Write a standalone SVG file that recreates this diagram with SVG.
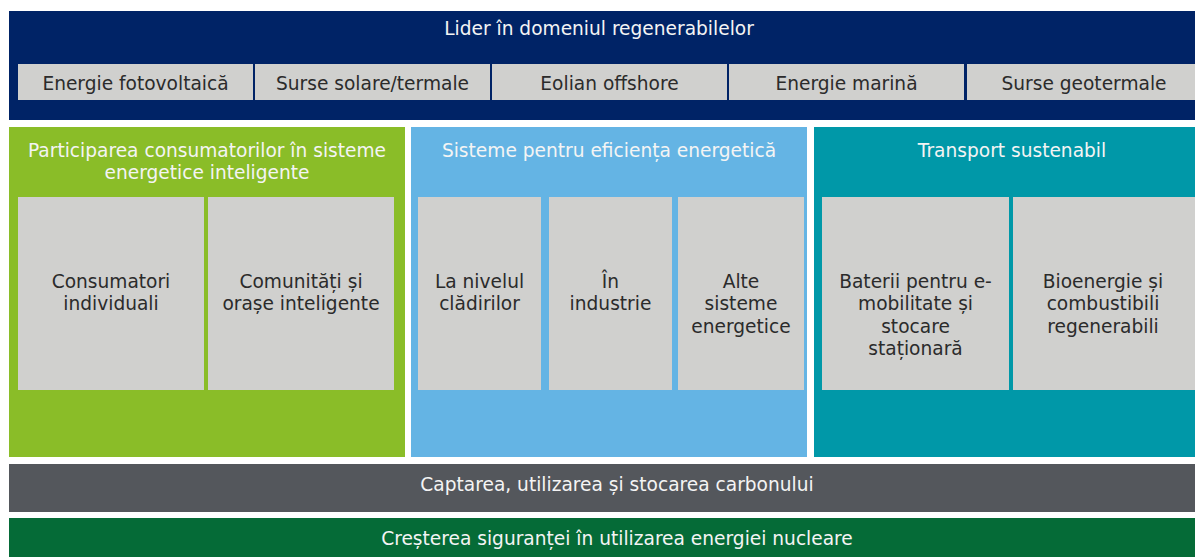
<svg xmlns="http://www.w3.org/2000/svg" width="1195" height="557" viewBox="0 0 1195 557">
<style>
text{font-family:"DejaVu Sans","Verdana",sans-serif;font-size:18.6px;text-anchor:middle}
.w{fill:#f4f4f4}
.d{fill:#2b2b2b}
.box{fill:#d0d0ce}
</style>
<rect width="1195" height="557" fill="#ffffff"/>
<g id="renewables">
<rect x="9" y="11" width="1186" height="109" fill="#002366"/>
<text class="w" x="599" y="35">Lider în domeniul regenerabilelor</text>
</g>
<g id="pv"><rect class="box" x="18" y="64" width="235" height="36"/><text class="d" x="135.5" y="90">Energie fotovoltaică</text></g>
<g id="solar"><rect class="box" x="255" y="64" width="235" height="36"/><text class="d" x="372.5" y="90">Surse solare/termale</text></g>
<g id="offshore"><rect class="box" x="492" y="64" width="235" height="36"/><text class="d" x="609.5" y="90">Eolian offshore</text></g>
<g id="marine"><rect class="box" x="729" y="64" width="235" height="36"/><text class="d" x="846.5" y="90">Energie marină</text></g>
<g id="geo"><rect class="box" x="967" y="64" width="228" height="36"/><text class="d" x="1084" y="90">Surse geotermale</text></g>

<g id="consumers">
<rect x="9" y="127" width="396" height="330" fill="#8abd28"/>
<text class="w" x="207" y="157">Participarea consumatorilor în sisteme</text>
<text class="w" x="207" y="179">energetice inteligente</text>
</g>
<g id="individual"><rect class="box" x="18" y="197" width="186" height="193"/><text class="d" x="111" y="288">Consumatori</text><text class="d" x="111" y="310">individuali</text></g>
<g id="communities"><rect class="box" x="208" y="197" width="186" height="193"/><text class="d" x="301" y="288">Comunități și</text><text class="d" x="301" y="310">orașe inteligente</text></g>

<g id="efficiency">
<rect x="411" y="127" width="396" height="330" fill="#64b4e4"/>
<text class="w" x="609" y="157">Sisteme pentru eficiența energetică</text>
</g>
<g id="buildings"><rect class="box" x="418" y="197" width="123" height="193"/><text class="d" x="479.5" y="288">La nivelul</text><text class="d" x="479.5" y="310">clădirilor</text></g>
<g id="industry"><rect class="box" x="549" y="197" width="123" height="193"/><text class="d" x="610.5" y="288">În</text><text class="d" x="610.5" y="310">industrie</text></g>
<g id="other"><rect class="box" x="678" y="197" width="126" height="193"/><text class="d" x="741" y="288">Alte</text><text class="d" x="741" y="310">sisteme</text><text class="d" x="741" y="333">energetice</text></g>

<g id="transport">
<rect x="814" y="127" width="381" height="330" fill="#0098a8"/>
<text class="w" x="1012" y="157">Transport sustenabil</text>
</g>
<g id="batteries"><rect class="box" x="822" y="197" width="187" height="193"/><text class="d" x="915.5" y="288">Baterii pentru e-</text><text class="d" x="915.5" y="310">mobilitate și</text><text class="d" x="915.5" y="333">stocare</text><text class="d" x="915.5" y="355">staționară</text></g>
<g id="bioenergy"><rect class="box" x="1013" y="197" width="182" height="193"/><text class="d" x="1103" y="288">Bioenergie și</text><text class="d" x="1103" y="310">combustibili</text><text class="d" x="1103" y="333">regenerabili</text></g>

<g id="ccus">
<rect x="9" y="464" width="1186" height="48" fill="#54575c"/>
<text class="w" x="617" y="491">Captarea, utilizarea și stocarea carbonului</text>
</g>
<g id="nuclear">
<rect x="9" y="518" width="1186" height="39" fill="#056b37"/>
<text class="w" x="617" y="545">Creșterea siguranței în utilizarea energiei nucleare</text>
</g>
<g id="connectors"/>
</svg>
